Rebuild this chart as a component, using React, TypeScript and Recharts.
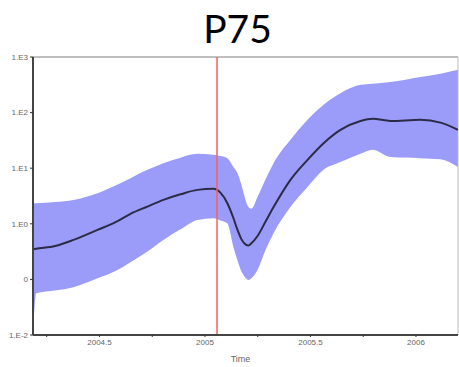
import {
  Area, ComposedChart, Line, ReferenceLine, XAxis, YAxis,
} from 'recharts';

// time (years) and log10 values
const times = [
  2004.185, 2004.2, 2004.29, 2004.377, 2004.491, 2004.576, 2004.647, 2004.727, 2004.803, 2004.884,
  2004.964, 2005.04, 2005.073, 2005.106, 2005.135, 2005.154, 2005.173, 2005.192, 2005.206, 2005.22,
  2005.249, 2005.287, 2005.325, 2005.405, 2005.486, 2005.562, 2005.642, 2005.737, 2005.794, 2005.879,
  2006.021, 2006.116, 2006.199,
];
const median = [
  -0.46, -0.45, -0.4, -0.29, -0.11, 0.03, 0.18, 0.31, 0.43, 0.53,
  0.61, 0.63, 0.56, 0.37, 0.1, -0.11, -0.28, -0.37, -0.39, -0.35,
  -0.22, 0.04, 0.3, 0.79, 1.15, 1.45, 1.69, 1.85, 1.89, 1.85,
  1.87, 1.82, 1.69,
];
const lower = [
  -2, -1.25, -1.2, -1.14, -0.98, -0.85, -0.69, -0.5, -0.29, -0.1,
  0.07, 0.1, 0.06, 0.01, -0.42, -0.66, -0.86, -0.97, -1.01, -0.98,
  -0.83, -0.47, -0.17, 0.3, 0.66, 0.97, 1.11, 1.26, 1.33, 1.2,
  1.18, 1.16, 1.02,
];
const upper = [
  0.37, 0.37, 0.39, 0.43, 0.55, 0.69, 0.82, 0.97, 1.09, 1.19,
  1.26, 1.24, 1.22, 1.18, 1.02, 0.91, 0.7, 0.43, 0.3, 0.27,
  0.48, 0.8, 1.09, 1.51, 1.87, 2.14, 2.35, 2.5, 2.52, 2.55,
  2.64, 2.7, 2.77,
];

const yTicks = [-2, -1, 0, 1, 2, 3];
const yLabels = ['1.E-2', '0', '1.E0', '1.E1', '1.E2', '1.E3'];
const yMinor = [-2, -1, 0, 1, 2].flatMap(d => [2, 3, 4, 5, 6, 7, 8, 9].map(k => d + Math.log10(k)));
const xTicks = [2004.25, 2004.5, 2004.75, 2005, 2005.25, 2005.5, 2005.75, 2006];
const xLabels = ['', '2004.5', '', '2005', '', '2005.5', '', '2006'];
const markerTime = 2005.057;
const xDomain = [2004.185, 2006.199];

const rows = times.map((t, i) => ({ t, median: median[i], band: [lower[i], upper[i]] }));

const tickStyle = { fontSize: 8, fill: '#666', fontFamily: 'Liberation Sans, Arial, sans-serif' };

export default function App() {
  return (
    <div style={{ position: 'fixed', left: 0, top: 0, width: 459, height: 367, background: '#fff' }}>
      <div style={{
        position: 'absolute', left: 0, top: 4, width: 475, textAlign: 'center',
        fontFamily: 'Lato, Carlito, sans-serif', fontSize: 39, color: '#000', lineHeight: '48px',
      }}>P75</div>
      <ComposedChart width={459} height={367} data={rows} margin={{ top: 57, right: 1, left: 0, bottom: 0 }}>
        <XAxis
          dataKey="t" type="number" domain={xDomain} ticks={xTicks} allowDataOverflow
          tickFormatter={(v: number) => xLabels[xTicks.indexOf(v)] ?? ''}
          tick={tickStyle} tickSize={2} height={32}
          axisLine={{ stroke: '#444', strokeWidth: 2 }} tickLine={{ stroke: '#333' }}
          label={{ value: 'Time', position: 'insideBottom', offset: 5, dx: -5, style: { ...tickStyle, fontSize: 9 } }}
        />
        <YAxis
          type="number" domain={[-2, 3]} ticks={yTicks} width={33} allowDataOverflow
          tickFormatter={(v: number) => yLabels[yTicks.indexOf(v)] ?? ''}
          tick={tickStyle} tickSize={3}
          axisLine={{ stroke: '#444', strokeWidth: 2 }} tickLine={{ stroke: '#333' }}
        />
        <YAxis
          yAxisId="minor" type="number" domain={[-2, 3]} ticks={yMinor} width={0}
          tick={false} tickSize={2} axisLine={false} tickLine={{ stroke: '#555' }}
        />
        <ReferenceLine y={3} stroke="#aaa" strokeWidth={1.5} />
        <ReferenceLine x={xDomain[1]} stroke="#bbb" strokeWidth={1} />
        <Area
          dataKey="band" type="monotone" stroke="none" fill="#9b9bfa" fillOpacity={1}
          isAnimationActive={false}
        />
        <Line
          dataKey="median" type="monotone" stroke="#2b2b45" strokeWidth={2} dot={false}
          isAnimationActive={false}
        />
        <ReferenceLine x={markerTime} stroke="#ff5c5c" strokeWidth={1.5} />
      </ComposedChart>
    </div>
  );
}
